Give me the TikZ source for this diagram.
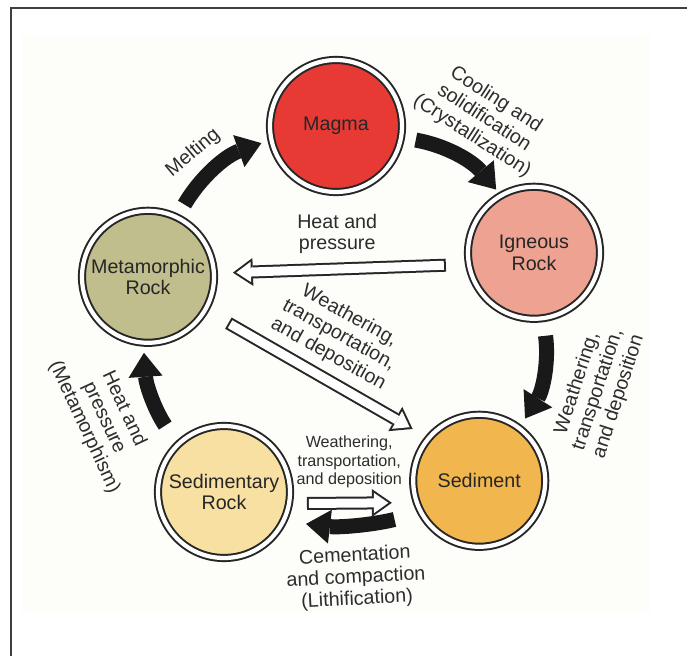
\documentclass[tikz,border=0pt]{standalone}
\usepackage{fontspec}
\setmainfont{Liberation Sans}
\usetikzlibrary{arrows.meta}
\definecolor{magmared}{RGB}{232,58,52}
\definecolor{igneouspink}{RGB}{238,162,146}
\definecolor{metaolive}{RGB}{192,190,140}
\definecolor{sedrockcream}{RGB}{247,224,162}
\definecolor{sedimentorange}{RGB}{241,182,78}
\definecolor{labelgray}{RGB}{45,45,45}
\definecolor{paper}{RGB}{253,253,250}

\begin{document}
\begin{tikzpicture}[
    rock/.style={circle, minimum size=3.3cm, inner sep=0pt, draw=black!85, line width=1.4pt,
        double=white, double distance=3pt, align=center, text=black!85,
        font=\fontsize{14}{15}\selectfont},
    txt/.style={align=center, text=labelgray, font=\fontsize{14}{15.5}\selectfont},
    smalltxt/.style={align=center, text=labelgray, font=\fontsize{11.5}{13}\selectfont},
    flow/.style={line width=0.375cm, black!90, -{Triangle[width=0.85cm, length=0.6cm, line width=0pt]}},
    hollowout/.style={line width=0.325cm, black!85, -{Triangle[width=0.7cm, length=0.5cm, line width=0pt]}},
    hollowin/.style={line width=0.225cm, white, -{Triangle[width=0.508cm, length=0.363cm, line width=0pt]}}
]
                \useasboundingbox (0,0) rectangle (17.175,16.4);

                % Page and frame
                \fill[paper] (0.55,1.075) rectangle (16.25,15.525);
                \draw[line width=1.4pt, black!75] (0.275,0) -- (0.275,16.2) -- (17.175,16.2);

                % Rocks
                \node[rock, fill=magmared] (magma) at (8.40,13.25) {Magma};
                \node[rock, fill=igneouspink] (igneous) at (13.35,10.08) {Igneous\\Rock};
                \node[rock, fill=metaolive] (meta) at (3.70,9.48) {Metamorphic\\Rock};
                \node[rock, fill=sedrockcream] (sedrock) at (5.60,4.10) {Sedimentary\\Rock};
                \node[rock, fill=sedimentorange] (sediment) at (11.98,4.38) {Sediment};

                % Black cycle arrows
                \draw[flow, shorten <=0.35cm, shorten >=0.24cm] (meta.64) to[bend left=20] (magma.192);
                \draw[flow, shorten <=0.35cm, shorten >=0.17cm] (magma.-10) to[bend left=20] (igneous.120);
                \draw[flow, shorten <=0.42cm, shorten >=0.26cm] (igneous.-82) to[bend left=20] (sediment.53);
                \draw[flow, shorten <=0.55cm, shorten >=0.23cm] (sedrock.134) to[bend left=15] (meta.266);
                \draw[flow, shorten <=0.67cm, shorten >=0.55cm] (sediment.209) to[bend left=10] (sedrock.-26);

                % Hollow arrows
                \draw[hollowout, shorten <=0.555cm, shorten >=0.45cm] (igneous.190.7) -- (meta.3);
                \draw[hollowin, shorten <=0.605cm, shorten >=0.537cm] (igneous.190.7) -- (meta.3);
                \draw[hollowout, shorten <=0.645cm, shorten >=0.44cm] (meta.-30) -- (sediment.140);
                \draw[hollowin, shorten <=0.695cm, shorten >=0.527cm] (meta.-30) -- (sediment.140);
                \draw[hollowout, shorten <=0.425cm, shorten >=0.6cm] (sedrock.-10.5) -- (sediment.199.5);
                \draw[hollowin, shorten <=0.475cm, shorten >=0.687cm] (sedrock.-10.5) -- (sediment.199.5);

                % Labels
                \node[txt, rotate=40] (melttxt) at (4.83,12.58) {Melting};
                \node[txt, rotate=-33] (cooltxt) at (12.1,13.45) {Cooling and\\solidification\\(Crystallization)};
                \node[txt] (heattxt) at (8.43,10.55) {Heat and\\pressure};
                \node[txt, rotate=-29] (weathtxt) at (8.47,8.02) {Weathering,\\transportation,\\and deposition};
                \node[txt, rotate=72] (erodetxt) at (14.95,6.65) {Weathering,\\transportation,\\and deposition};
                \node[txt, rotate=-65] (metatxt) at (2.6,5.95) {Heat and\\pressure\\(Metamorphism)};
                \node[smalltxt] (smallweath) at (8.73,4.85) {Weathering,\\transportation,\\and deposition};
                \node[txt, rotate=3] (cementtxt) at (8.9,1.95) {Cementation\\and compaction\\(Lithification)};
\end{tikzpicture}
\end{document}
